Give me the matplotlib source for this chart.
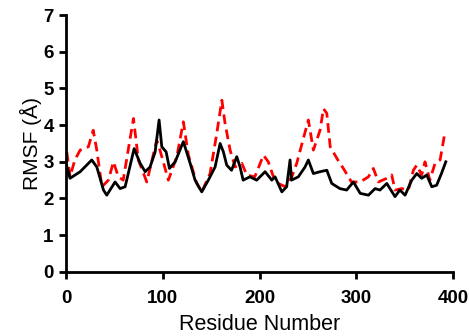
import matplotlib
matplotlib.use("Agg")
import matplotlib.pyplot as plt

# black (solid) series: residue, RMSF
res_a = [0, 4, 14.5, 26.5, 31.7, 38.6, 42, 50.6, 55.8, 61, 70.3, 76.5, 81.7, 86.8,
         92, 96.1, 98.9, 103.4, 106.8, 112.7, 121.2, 128.2, 133.3, 140.2, 147, 154,
         159.2, 162.6, 166, 171, 176.4, 179.8, 183, 190, 197, 205.7, 212.6, 216, 223,
         228, 231.5, 233, 240, 247, 250.4, 255.6, 262.5, 269.5, 274.6, 283, 290, 297,
         304, 312.5, 319.4, 324.5, 331.5, 340, 345, 350.4, 357.3, 362.5, 367.6, 372.8,
         378, 383, 388, 392.5]
rmsf_a = [2.95, 2.55, 2.73, 3.05, 2.86, 2.23, 2.09, 2.45, 2.27, 2.32, 3.36, 2.96, 2.73,
          2.86, 3.27, 4.14, 3.41, 3.27, 2.82, 3.0, 3.55, 2.96, 2.5, 2.18, 2.5, 2.86,
          3.5, 3.27, 2.91, 2.77, 3.14, 2.86, 2.5, 2.59, 2.5, 2.73, 2.5, 2.59, 2.18,
          2.32, 3.05, 2.5, 2.59, 2.86, 3.05, 2.68, 2.73, 2.77, 2.41, 2.27, 2.23, 2.45,
          2.14, 2.09, 2.27, 2.23, 2.41, 2.05, 2.23, 2.09, 2.5, 2.68, 2.55, 2.64, 2.32,
          2.36, 2.68, 3.0]

# red (dashed) series
res_b = [0.7, 4, 9, 14.5, 23, 28, 31.7, 37, 43.7, 48.9, 54, 59, 69.6, 74.7, 83.4, 93.7,
         97, 105.7, 114.4, 121.2, 126.4, 135, 140.2, 148.8, 155.7, 161, 164.3, 169.5,
         174.7, 181.6, 186.8, 195, 204, 209, 214.3, 219.4, 226.4, 233.3, 238.4, 245.3,
         250.4, 255.6, 262.5, 266, 269.5, 273, 280, 286.6, 295, 304, 312.5, 317.6,
         322.8, 331.5, 336.6, 340, 347, 353.8, 359, 362.5, 367.6, 371, 376, 381.4,
         386.6, 391.7]
rmsf_b = [3.27, 2.59, 3.05, 3.32, 3.41, 3.86, 3.32, 2.32, 2.5, 3.0, 2.59, 2.5, 4.18, 3.05,
          2.45, 3.59, 3.32, 2.5, 3.14, 4.09, 3.18, 2.41, 2.18, 2.68, 3.77, 4.68, 4.05,
          3.32, 2.86, 2.96, 2.64, 2.59, 3.18, 3.0, 2.59, 2.41, 2.32, 2.59, 2.96, 3.64,
          4.14, 3.32, 3.86, 4.45, 4.32, 3.41, 3.09, 2.82, 2.45, 2.45, 2.59, 2.82, 2.45,
          2.55, 2.64, 2.23, 2.27, 2.23, 2.77, 2.91, 2.64, 3.0, 2.5, 2.96, 3.05, 3.82]

plt.rcParams['font.family'] = ['Liberation Sans', 'DejaVu Sans']

fig = plt.figure(figsize=(4.69, 3.36), dpi=100)
ax = fig.add_axes([0.141, 0.191, 0.825, 0.764])

ax.plot(res_a, rmsf_a, color='black', lw=2.0, zorder=3)
ax.plot(res_b, rmsf_b, color='#ff0000', lw=2.0, ls=(0, (3.5, 2)), zorder=2)

ax.set_xlim(0, 400)
ax.set_ylim(0, 7)
ax.set_xticks([0, 100, 200, 300, 400])
ax.set_yticks(range(8))
for s in ['top', 'right']:
    ax.spines[s].set_visible(False)
for s in ['left', 'bottom']:
    ax.spines[s].set_linewidth(2)
ax.tick_params(width=2, length=5, labelsize=13.5)
ax.tick_params(axis='x', pad=8)
ax.tick_params(axis='y', pad=4)
for lab in ax.get_xticklabels() + ax.get_yticklabels():
    lab.set_fontweight('bold')

ax.set_xlabel('Residue Number', fontsize=15.5, labelpad=5)
ax.set_ylabel('RMSF (Å)', fontsize=15, labelpad=1)

fig.savefig('out.png', dpi=100)
